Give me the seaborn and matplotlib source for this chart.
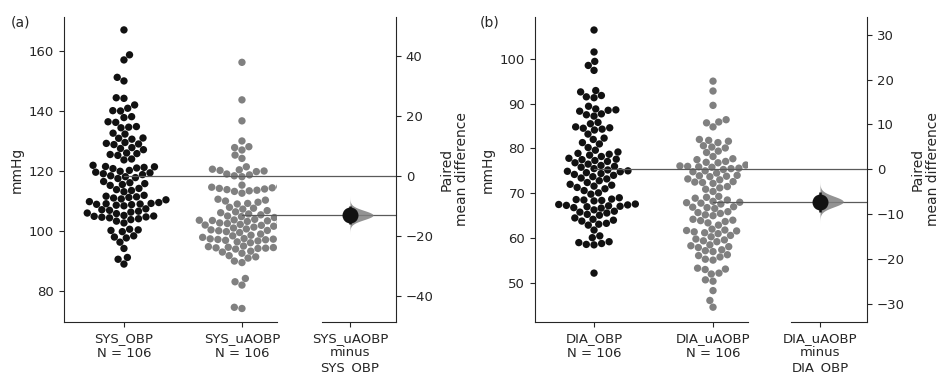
import numpy as np
import pandas as pd
import seaborn as sns
import matplotlib.pyplot as plt

sns.set_style("ticks")
plt.rcParams['font.family'] = ['DejaVu Sans']
plt.rcParams['font.size'] = 9.5

# Systolic readings (mmHg)
sys_obp = [167, 158.7, 157, 151.2, 150, 144.4, 144.2, 142, 140.9, 140.1, 140, 138.1, 137.8,
           136.4, 136.2, 134.8, 134.6, 134.4, 132.6, 132.3, 131, 130.9, 130.6,
           129.5, 129.2, 129, 128.8, 127.8, 127.5, 127.1, 126, 125.8, 125.5, 125.2, 124, 123.7,
           121.9, 121.4, 121.2, 121, 120.8, 121.5, 120.2, 119.9, 119.6, 119.4, 119.1, 118.8,
           118.4, 118.1, 117.8, 117.5, 116.5, 116.1, 115.8, 115.5, 115.2, 114.2, 113.8, 113.5, 113.1,
           111.9, 111.6, 111.4, 111.2, 111, 110.7, 110.4, 109.8, 109.5, 109.2, 109.1, 109, 108.9,
           108.8, 108.6, 108.4,
           107.4, 107.1, 106.9, 106.6, 106.3, 106, 105.8, 105.2, 105.0, 104.9, 104.7, 104.6, 104.4,
           104.1, 103.8, 103.3, 102.7,
           100.6, 100.4, 100.2, 99.8, 98.4, 98, 97.7, 96.3, 94.2, 91.2, 90.6, 89]
sys_uaobp = [156.2, 143.7, 136.7, 130.0, 128.1, 127.8, 127.0, 125.3, 124.2,
             121.4, 120.6, 120.4, 120.2, 120.0, 119.8, 119.0, 118.7, 118.4, 118.1, 115.3,
             114.8, 114.6, 114.4, 114.2, 114.0, 113.8, 113.6, 113.4, 113.2, 112.6,
             110.6, 110.3, 110.0, 109.6, 109.2, 109.0, 107.9, 107.6, 107.3, 106.8,
             106.4, 106.1, 105.7, 105.4, 105.0, 104.8, 104.5, 104.2,
             103.9, 103.7, 103.6, 103.5, 103.4, 103.2, 102.9,
             102.7, 102.5, 102.2, 102.0, 101.9, 101.6, 101.3, 101.0, 100.7, 100.4, 100.1,
             100.2, 99.8, 99.5, 99.0, 98.9, 98.6, 98.4,
             97.9, 97.7, 97.5, 97.4, 97.3, 97.2, 97.1, 96.9, 96.7, 96.4, 96.1,
             95.2, 95.0, 94.8, 94.6, 94.5, 94.4, 94.3, 94.2, 94.0,
             93.3, 93.0, 92.6, 91.8, 91.4, 91.0, 90.0, 89.5, 84.2, 83.1, 82.0, 74.6, 74.2]

# Diastolic readings (mmHg)
dia_obp = [106.4, 101.5, 99.4, 98.5, 97.4, 92.9, 92.6, 91.8, 91.5, 91.3, 89.4,
           88.8, 88.6, 88.5, 88.3, 87.7, 87.5, 87.2, 85.8, 85.5, 84.8, 84.6, 84.5, 84.3, 84.1,
           83.2, 82.3, 82.0, 81.3, 81.0, 80.2, 79.6, 79.2, 78.9,
           78.7, 78.5, 78.2, 77.8, 77.6, 77.5, 77.3, 77.1, 76.8, 76.5, 76.2, 76.0, 75.8, 75.5,
           75.2, 75.0, 74.9, 74.8, 74.6, 74.4, 74.2, 74.0, 73.7, 73.4, 73.2,
           72.8, 72.4, 72.0, 71.8, 71.6, 71.3, 71.0, 70.6, 70.1, 69.8,
           69.0, 68.7, 68.6, 68.5, 68.4, 68.3, 67.6, 67.5, 67.4, 67.3, 67.2, 67.1, 67.0, 66.8, 66.7,
           66.3, 66.0, 65.8, 65.6, 65.3, 65.1, 64.5, 64.2, 64.0, 63.8, 63.3, 63.1, 62.9,
           61.8, 60.5, 60.1, 59.2, 59.0, 58.8, 58.6, 58.5, 52.2]
dia_uaobp = [95.0, 92.8, 89.6, 86.4, 85.9, 85.7, 84.8, 82.0, 81.8, 81.6, 81.3,
             80.6, 80.3, 80.1, 79.4, 79.1, 78.2, 77.7, 77.5, 77.1, 76.9, 76.8,
             76.3, 76.1, 76.0, 75.9, 75.8, 75.6, 75.5, 75.3, 75.0,
             74.8, 74.5, 74.0, 73.9, 73.8, 73.7, 73.2, 73.0, 72.6, 72.5, 72.4, 72.2,
             71.5, 71.2, 70.9, 70.4, 69.3, 69.1, 68.9, 68.5, 68.2, 68.0,
             67.9, 67.8, 67.6, 67.0, 66.9, 66.8, 66.6, 65.9, 65.7, 65.5, 65.2, 65.0,
             64.2, 64.0, 63.9, 63.7, 63.4, 62.9, 62.0, 61.8, 61.7, 61.6, 61.4, 61.2, 61.0,
             60.6, 60.3, 59.8, 59.6, 59.4, 59.2, 58.5, 58.3, 58.1, 57.9, 57.4, 57.2, 57.0,
             56.3, 56.1, 55.8, 55.3, 55.1, 53.3, 53.1, 53.0, 52.2, 52.0,
             50.7, 50.4, 48.3, 46.1, 44.6]

# 95% CI of the paired mean difference (uAOBP minus OBP)
sys_ci = (-16.1, -10.0)
dia_ci = (-9.6, -5.0)

black = "#111111"
gray = "#808080"
W, H = 947, 372


def rect(l, t, r, b):
    return [l / W, 1 - b / H, (r - l) / W, (b - t) / H]


def panel(raw_box, con_box, raw_xlim, con_xlim, ylim, names, a, b, ci, yticks, cticks, tag):
    ax = fig.add_axes(rect(*raw_box))
    cax = fig.add_axes(rect(*con_box))
    cax.patch.set_visible(False)

    df = pd.DataFrame({"group": [names[0]] * len(a) + [names[1]] * len(b),
                       "value": list(a) + list(b)})
    ax.set_ylim(ylim)
    sns.swarmplot(data=df, x="group", y="value", hue="group", order=names,
                  palette=[black, gray], size=5.3, linewidth=0,
                  legend=False, ax=ax)
    ax.set_xlim(raw_xlim)
    ax.set_ylim(ylim)
    ax.set_yticks(yticks)
    ax.set_xlabel("")
    ax.set_ylabel("mmHg", fontsize=10)
    ax.set_xticks([0, 1])
    ax.set_xticklabels([f"{n}\nN = {len(v)}" for n, v in zip(names, [a, b])])
    sns.despine(ax=ax)

    m1, m2 = np.mean(a), np.mean(b)
    md = m2 - m1
    cax.set_ylim(ylim[0] - m1, ylim[1] - m1)
    cax.set_xlim(con_xlim)
    cax.set_yticks(cticks)
    cax.set_xticks([0])
    cax.set_xticklabels([f"{names[1]}\nminus\n{names[0]}"], linespacing=1.15)
    cax.yaxis.tick_right()
    cax.yaxis.set_label_position("right")
    cax.set_ylabel("Paired\nmean difference", fontsize=10)
    for s in ["left", "top"]:
        cax.spines[s].set_visible(False)

    # half violin built from the CI of the mean difference
    se = (ci[1] - ci[0]) / (2 * 1.96)
    yy = np.linspace(md - 4 * se, md + 4 * se, 200)
    dens = np.exp(-0.5 * ((yy - md) / se) ** 2)
    cax.fill_betweenx(yy, 0, dens * 0.195, color=gray, alpha=0.85, lw=0, zorder=3)
    cax.vlines(0, ci[0], ci[1], color=black, lw=1.8, zorder=4)
    cax.plot(0, md, "o", ms=10.5, color=black, zorder=5)

    # mean reference lines running across to the contrast axis
    xr = ax.transData.inverted().transform(cax.transAxes.transform((1, 0)))[0]
    ax.plot([0, xr], [m1, m1], color="#5a5a5a", lw=0.9, clip_on=False, zorder=6)
    ax.plot([1, xr], [m2, m2], color="#5a5a5a", lw=0.9, clip_on=False, zorder=6)

    fig.text(tag[0] / W, 1 - tag[1] / H, tag[2], fontsize=10, va="center", ha="left")


fig = plt.figure(figsize=(W / 100, H / 100), dpi=100)

panel((64, 17, 277, 322), (322, 17, 396, 322), (-0.508, 1.297), (-0.237, 0.39),
      (69.7, 171.3), ["SYS_OBP", "SYS_uAOBP"], sys_obp, sys_uaobp, sys_ci,
      [80, 100, 120, 140, 160], [-40, -20, 0, 20, 40], (11, 23, "(a)"))
panel((535, 17, 748, 322), (791, 17, 867, 322), (-0.496, 1.294), (-0.244, 0.395),
      (41.3, 109.3), ["DIA_OBP", "DIA_uAOBP"], dia_obp, dia_uaobp, dia_ci,
      [50, 60, 70, 80, 90, 100], [-30, -20, -10, 0, 10, 20, 30], (480, 23, "(b)"))

plt.savefig("out.png", dpi=100)
